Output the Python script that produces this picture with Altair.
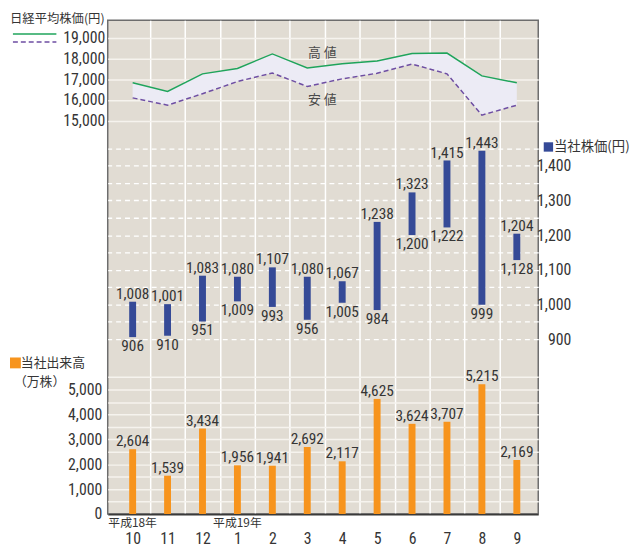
import json
import altair as alt
import pandas as pd

# ---------------- data ----------------
months = ["10", "11", "12", "1", "2", "3", "4", "5", "6", "7", "8", "9"]
nikkei_high = [16830, 16410, 17260, 17520, 18220, 17540, 17750, 17880, 18240, 18260, 17160, 16830]
nikkei_low = [16100, 15750, 16300, 16890, 17300, 16650, 17020, 17290, 17730, 17260, 15270, 15750]
price_high = [1008, 1001, 1083, 1080, 1107, 1080, 1067, 1238, 1323, 1415, 1443, 1204]
price_low = [906, 910, 951, 1009, 993, 956, 1005, 984, 1200, 1222, 999, 1128]
volume = [2604, 1539, 3434, 1956, 1941, 2692, 2117, 4625, 3624, 3707, 5215, 2169]
era_pos = [0, 3]
era_text = ["平成18年", "平成19年"]
band_text = ["高 値", "安 値"]
band_text_pos = [5.43, 5.43]
band_text_val = [18240, 16020]

df = pd.DataFrame({
    "i": list(range(len(months))),
    "month": months,
    "nh": nikkei_high,
    "nl": nikkei_low,
    "ph": price_high,
    "pl": price_low,
    "vol": volume,
})
era_df = pd.DataFrame({"i": era_pos, "t": era_text})
band_df = pd.DataFrame({"i": band_text_pos, "v": band_text_val, "t": band_text})

# ---------------- style ----------------
W, H = 436, 500
FONT_NUM = "Roboto Condensed, DejaVu Sans Condensed, Liberation Sans Narrow, Arial Narrow, Liberation Sans, sans-serif"
FONT_JP = "Noto Sans CJK JP, sans-serif"
TXT = "#353535"
BG = "#e1dcd3"
ORANGE = "#f7941d"
BLUE = "#354a97"
GREEN = "#1fa45b"
PURPLE = "#6e4ea3"
BAND = "#ecebf5"
NUM = 15.5
AX = 16

months_js = json.dumps(months)

x_enc = alt.X(
    "i:Q",
    scale=alt.Scale(domain=[-0.572, 11.472], nice=False, zero=False),
    axis=alt.Axis(
        values=[k / 2 for k in range(23)],
        labelExpr=f"datum.value % 1 == 0 ? {months_js}[datum.value] : ''",
        title=None, ticks=False, tickSize=0, labelPadding=17,
        labelFontSize=AX, labelFont=FONT_NUM, labelColor=TXT,
        labelOverlap=False, labelFlush=False,
        domain=True, domainColor="#3a3a3a", domainWidth=2,
        grid=True, gridColor="white", gridWidth=1.5,
        gridOpacity={"condition": {"test": "datum.value % 1 == 0", "value": 0}, "value": 1},
    ),
)

# Nikkei scale / axis
nk_scale = alt.Scale(domain=[-3967, 19843], nice=False, zero=False)
nk_axis = alt.Axis(
    values=[15000, 16000, 17000, 18000, 19000],
    labelExpr="format(datum.value, ',')", orient="left",
    title=None, ticks=False, tickSize=0, domain=False, labelPadding=3,
    labelFontSize=AX, labelFont=FONT_NUM, labelColor=TXT, labelFlush=False,
    grid=True, gridColor="#f6f3ee", gridWidth=1.6,
)
nk_band = alt.Chart(df).mark_area(color=BAND, opacity=1).encode(
    x=x_enc, y=alt.Y("nl:Q", scale=nk_scale, axis=nk_axis), y2="nh:Q"
)
nk_hi = alt.Chart(df).mark_line(color=GREEN, strokeWidth=1.5).encode(
    x=x_enc, y=alt.Y("nh:Q", scale=nk_scale, axis=nk_axis)
)
nk_lo = alt.Chart(df).mark_line(color=PURPLE, strokeWidth=1.5, strokeDash=[5, 3]).encode(
    x=x_enc, y=alt.Y("nl:Q", scale=nk_scale, axis=nk_axis)
)
nk_txt = alt.Chart(band_df).mark_text(font=FONT_JP, fontSize=13, color="#4a4a4a").encode(
    x=x_enc, y=alt.Y("v:Q", scale=nk_scale, axis=nk_axis), text="t:N"
)
nk_group = alt.layer(nk_band, nk_hi, nk_lo, nk_txt)

# Company price scale / axis
pr_scale = alt.Scale(domain=[396.4, 1818.9], nice=False, zero=False)
pr_axis = alt.Axis(
    values=list(range(900, 1451, 50)), orient="right",
    labelExpr="datum.value % 100 == 0 && datum.value <= 1400 ? format(datum.value, ',') : ''",
    title=None, ticks=False, tickSize=0, domain=False, labelPadding=33,
    labelAlign="right", labelFontSize=AX, labelFont=FONT_NUM, labelColor=TXT,
    labelFlush=False, labelOverlap=False,
    grid=True, gridColor="white", gridWidth=1.3, gridDash=[5, 4],
)
pr_bar = alt.Chart(df).mark_bar(color=BLUE, size=7).encode(
    x=x_enc, y=alt.Y("pl:Q", scale=pr_scale, axis=pr_axis), y2="ph:Q"
)
pr_hi_t = alt.Chart(df).mark_text(baseline="alphabetic", dy=-3, fontSize=NUM, font=FONT_NUM, color=TXT).encode(
    x=x_enc, y=alt.Y("ph:Q", scale=pr_scale, axis=pr_axis), text=alt.Text("ph:Q", format=",")
)
pr_lo_t = alt.Chart(df).mark_text(baseline="top", dy=2, fontSize=NUM, font=FONT_NUM, color=TXT).encode(
    x=x_enc, y=alt.Y("pl:Q", scale=pr_scale, axis=pr_axis), text=alt.Text("pl:Q", format=",")
)
pr_group = alt.layer(pr_bar, pr_hi_t, pr_lo_t)

# Volume scale / axis
vo_scale = alt.Scale(domain=[0, 19841], nice=False, zero=False)
vo_axis = alt.Axis(
    values=list(range(0, 5501, 500)), orient="left",
    labelExpr="datum.value % 1000 == 0 && datum.value <= 5000 ? format(datum.value, ',') : ''",
    title=None, ticks=False, tickSize=0, domain=False, labelPadding=6,
    labelFontSize=AX, labelFont=FONT_NUM, labelColor=TXT,
    labelFlush=False, labelOverlap=False,
    grid=True, gridColor="#f6f3ee", gridWidth=1.5,
)
vo_bar = alt.Chart(df).mark_bar(color=ORANGE, size=7).encode(
    x=x_enc, y=alt.Y("vol:Q", scale=vo_scale, axis=vo_axis)
)
vo_t = alt.Chart(df).mark_text(baseline="alphabetic", dy=-3, fontSize=NUM, font=FONT_NUM, color=TXT).encode(
    x=x_enc, y=alt.Y("vol:Q", scale=vo_scale, axis=vo_axis), text=alt.Text("vol:Q", format=",")
)
vo_group = alt.layer(vo_bar, vo_t)

# era labels under the axis
era = alt.Chart(era_df).mark_text(fontSize=12, font=FONT_JP, color=TXT, baseline="middle").encode(
    x=x_enc, y=alt.value(509), text="t:N"
)


def deco_text(s, x, y, size, color=TXT, align="left"):
    return alt.Chart(alt.Data(values=[{}])).mark_text(
        text=s, align=align, baseline="middle", fontSize=size, font=FONT_JP, color=color
    ).encode(x=alt.value(x), y=alt.value(y))


nk_title = deco_text("日経平均株価(円)", -99, -1, 12.5)
leg_hi = alt.Chart(alt.Data(values=[{}])).mark_rule(color=GREEN, strokeWidth=1.5).encode(
    x=alt.value(-96), x2=alt.value(-52), y=alt.value(14)
)
leg_lo = alt.Chart(alt.Data(values=[{}])).mark_rule(color=PURPLE, strokeWidth=1.5, strokeDash=[5, 3]).encode(
    x=alt.value(-96), x2=alt.value(-52), y=alt.value(22)
)
vo_sq = alt.Chart(alt.Data(values=[{}])).mark_square(size=121, color=ORANGE, opacity=1).encode(
    x=alt.value(-93.5), y=alt.value(347)
)
vo_title1 = deco_text("当社出来高", -88, 347, 13)
vo_title2 = deco_text("（万株）", -95, 366, 13)
pr_sq = alt.Chart(alt.Data(values=[{}])).mark_square(size=90, color=BLUE, opacity=1).encode(
    x=alt.value(446.3), y=alt.value(128.3)
)
pr_title = deco_text("当社株価(円)", 452, 128.3, 13.5)

chart = alt.layer(
    nk_group, vo_group, pr_group, era,
    nk_title, leg_hi, leg_lo, vo_sq, vo_title1, vo_title2, pr_sq, pr_title,
).resolve_scale(y="independent").properties(
    width=W, height=H,
    autosize=alt.AutoSizeParams(type="none"),
    padding={"left": 101, "top": 9, "right": 99, "bottom": 31},
).configure_view(fill=BG, stroke="#6d6d6d", strokeWidth=1.5)

chart.save("out.html", embed_options={"renderer": "svg", "actions": False})
